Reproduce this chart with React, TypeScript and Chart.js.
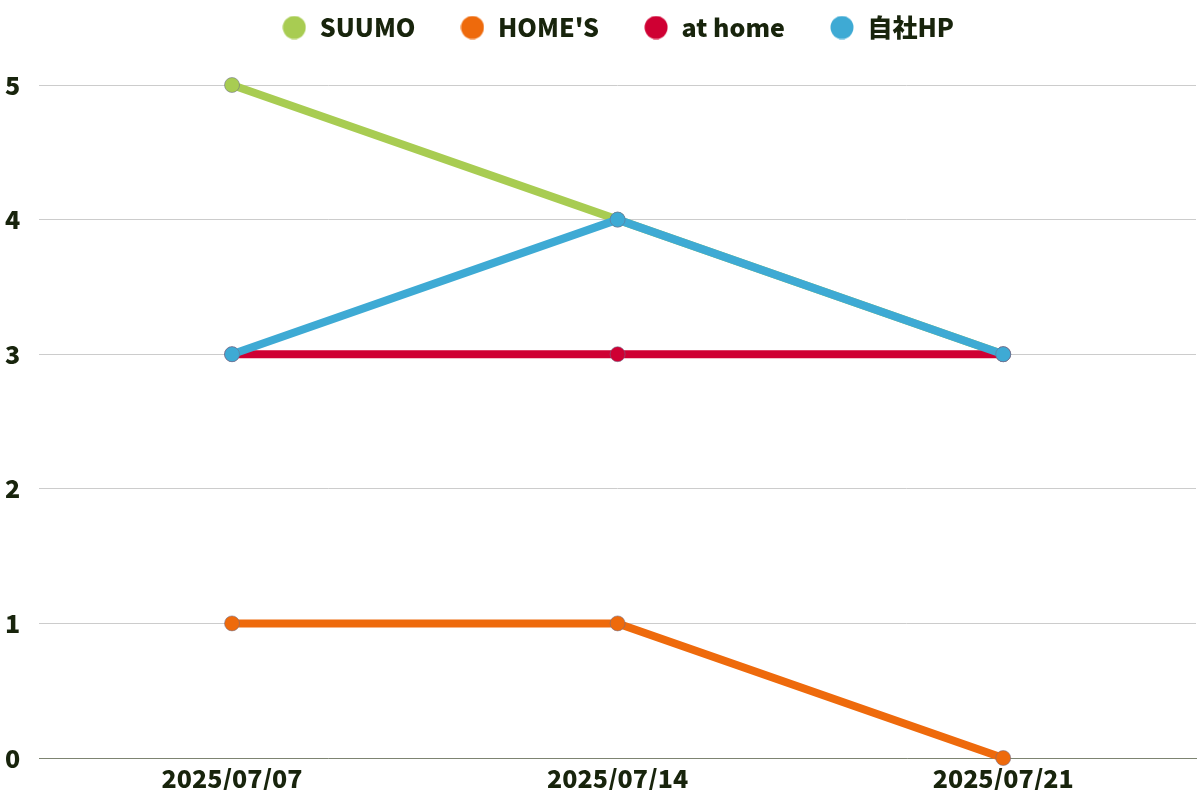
import React, { useEffect, useRef } from "react";
import { Chart, registerables } from "chart.js";

Chart.register(...registerables);

const categories = ["2025/07/07", "2025/07/14", "2025/07/21"];
const suumo = [5, 4, 3];
const homes = [1, 1, 0];
const athome = [3, 3, 3];
const jisha = [3, 4, 3];
const seriesNames = ["SUUMO", "HOME'S", "at home", "自社HP"];
const seriesColors = ["#a8cc52", "#ee6a0c", "#cf0033", "#3eaad4"];

const FONT = "'Noto Sans CJK JP', 'Noto Sans', sans-serif";
const TEXT = "#18240c";

function makeCircle(color: string) {
  const c = document.createElement("canvas");
  c.width = 24;
  c.height = 24;
  const ctx = c.getContext("2d")!;
  ctx.fillStyle = color;
  ctx.beginPath();
  ctx.arc(12, 12, 11.5, 0, Math.PI * 2);
  ctx.fill();
  return c;
}

const legendExtra = {
  id: "legendExtra",
  afterInit(chart: any) {
    const l = chart.legend;
    if (!l) return;
    const orig = l.fit;
    l.fit = function () {
      orig.call(this);
      this.height += 35;
    };
  },
};

export default function App() {
  const ref = useRef<HTMLCanvasElement>(null);
  useEffect(() => {
    document.body.style.margin = "0";
    const values = [suumo, homes, athome, jisha];
    const circles = seriesColors.map(makeCircle);
    const chart = new Chart(ref.current!, {
      type: "line",
      data: {
        labels: categories,
        datasets: values.map((v, i) => ({
          label: seriesNames[i],
          data: v,
          borderColor: seriesColors[i],
          backgroundColor: seriesColors[i],
          pointBackgroundColor: seriesColors[i],
          pointBorderColor: "rgba(110,110,140,0.55)",
          borderWidth: 8,
          pointRadius: 7.5,
          pointBorderWidth: 1,
          tension: 0,
          clip: false,
          order: 4 - i,
        })),
      },
      plugins: [legendExtra],
      options: {
        animation: false,
        responsive: false,
        maintainAspectRatio: false,
        layout: { autoPadding: false, padding: { left: -14, right: 4, top: -29, bottom: 10 } },
        plugins: {
          legend: {
            position: "top",
            fullSize: false,
            labels: {
              usePointStyle: true,
              pointStyleWidth: 26,
              boxHeight: 16,
              padding: 44,
              color: TEXT,
              font: { family: FONT, size: 25, weight: "900" },
              generateLabels: (ch: any) =>
                Chart.defaults.plugins.legend.labels
                  .generateLabels(ch)
                  .sort((a: any, b: any) => a.datasetIndex - b.datasetIndex)
                  .map((it: any) => ({ ...it, pointStyle: circles[it.datasetIndex] })),
            },
          },
          tooltip: { enabled: false },
        },
        scales: {
          x: {
            offset: true,
            grid: { display: false },
            border: { display: true, color: "#7d8471", width: 1 },
            ticks: {
              color: TEXT,
              font: { family: FONT, size: 25, weight: "900" },
              padding: -3,
            },
          },
          y: {
            min: 0,
            max: 5,
            grid: { color: "#cccccc", drawTicks: false },
            border: { display: false },
            ticks: {
              stepSize: 1,
              color: TEXT,
              font: { family: FONT, size: 25, weight: "900" },
              padding: 19,
            },
          },
        },
      },
    });
    return () => chart.destroy();
  }, []);
  return (
    <div style={{ width: 1200, height: 800 }}>
      <canvas ref={ref} width={1200} height={800} />
    </div>
  );
}
